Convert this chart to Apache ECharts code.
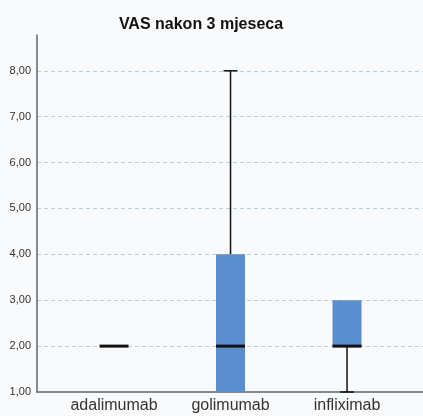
<!DOCTYPE html>
<html>
<head>
<meta charset="utf-8">
<script src="https://cdn.jsdelivr.net/npm/echarts@6/dist/echarts.min.js"></script>
<style>
  html, body { margin: 0; padding: 0; background: #f9fafc; }
  #main { width: 423px; height: 416px; }
</style>
</head>
<body>
<div id="main"></div>
<script>
// kategorije i vrijednosti (min, Q1, medijan, Q3, max)
var categories = ["adalimumab", "golimumab", "infliximab"];
var mins    = [2, 1, 1];
var q1s     = [2, 1, 2];
var medians = [2, 2, 2];
var q3s     = [2, 4, 3];
var maxs    = [2, 8, 3];
var yTicks  = [1, 2, 3, 4, 5, 6, 7, 8];

var boxData = categories.map(function (c, i) {
  return [i + 1, mins[i], q1s[i], medians[i], q3s[i], maxs[i]];
});

var myChart = echarts.init(document.getElementById("main"));

function renderBox(params, api) {
  var x = api.value(0);
  var pMin = api.coord([x, api.value(1)]);
  var pQ1 = api.coord([x, api.value(2)]);
  var pMed = api.coord([x, api.value(3)]);
  var pQ3 = api.coord([x, api.value(4)]);
  var pMax = api.coord([x, api.value(5)]);
  var half = 14.5;
  var cap = 7;
  var cx = pMed[0];
  var children = [];
  var lineStyle = { stroke: "#111", lineWidth: 1.5 };
  if (pMax[1] < pQ3[1]) {
    children.push({ type: "line", shape: { x1: cx, y1: pQ3[1], x2: cx, y2: pMax[1] }, style: lineStyle });
    children.push({ type: "line", shape: { x1: cx - cap, y1: pMax[1], x2: cx + cap, y2: pMax[1] }, style: lineStyle });
  }
  if (pMin[1] > pQ1[1]) {
    children.push({ type: "line", shape: { x1: cx, y1: pQ1[1], x2: cx, y2: pMin[1] }, style: lineStyle });
    children.push({ type: "line", shape: { x1: cx - cap, y1: pMin[1], x2: cx + cap, y2: pMin[1] }, style: lineStyle });
  }
  if (pQ1[1] - pQ3[1] > 0) {
    children.push({
      type: "rect",
      shape: { x: cx - half, y: pQ3[1], width: half * 2, height: pQ1[1] - pQ3[1] },
      style: { fill: "#5b8ecf", stroke: null }
    });
  }
  children.push({
    type: "line",
    shape: { x1: cx - half, y1: pMed[1], x2: cx + half, y2: pMed[1] },
    style: { stroke: "#111", lineWidth: 3 }
  });
  return { type: "group", children: children };
}

myChart.setOption({
  backgroundColor: "#f9fafc",
  animation: false,
  title: {
    text: "VAS nakon 3 mjeseca",
    left: 196,
    textAlign: "center",
    top: 12,
    textStyle: { fontFamily: "Liberation Sans", fontSize: 16, fontWeight: "bold", color: "#111" }
  },
  grid: { left: 37, right: 0, top: 35, bottom: 24, containLabel: false },
  xAxis: {
    type: "value",
    min: 0.339,
    max: 3.652,
    splitLine: { show: false },
    axisLine: { show: true, onZero: false, lineStyle: { color: "#5a6670", width: 1.5 } },
    axisTick: { show: false },
    axisLabel: {
      customValues: [1, 2, 3],
      formatter: function (v) { return categories[Math.round(v) - 1] || ""; },
      fontFamily: "Liberation Sans",
      fontSize: 16,
      color: "#333",
      margin: 6
    }
  },
  yAxis: {
    type: "value",
    min: 1,
    max: 8.78,
    axisLine: { show: true, lineStyle: { color: "#5a6670", width: 1.5 } },
    axisTick: { show: false, customValues: yTicks.slice(1) },
    splitLine: { show: true, lineStyle: { color: "#b9cfe0", type: [4, 3], width: 1 } },
    axisLabel: {
      customValues: yTicks,
      formatter: function (v) { return v.toFixed(2).replace(".", ","); },
      fontFamily: "Liberation Sans",
      fontSize: 11,
      color: "#333",
      margin: 6
    }
  },
  series: [{
    type: "custom",
    renderItem: renderBox,
    data: boxData,
    encode: { x: 0, y: [1, 2, 3, 4, 5] },
    clip: false,
    z: 3
  }]
});
</script>
</body>
</html>
